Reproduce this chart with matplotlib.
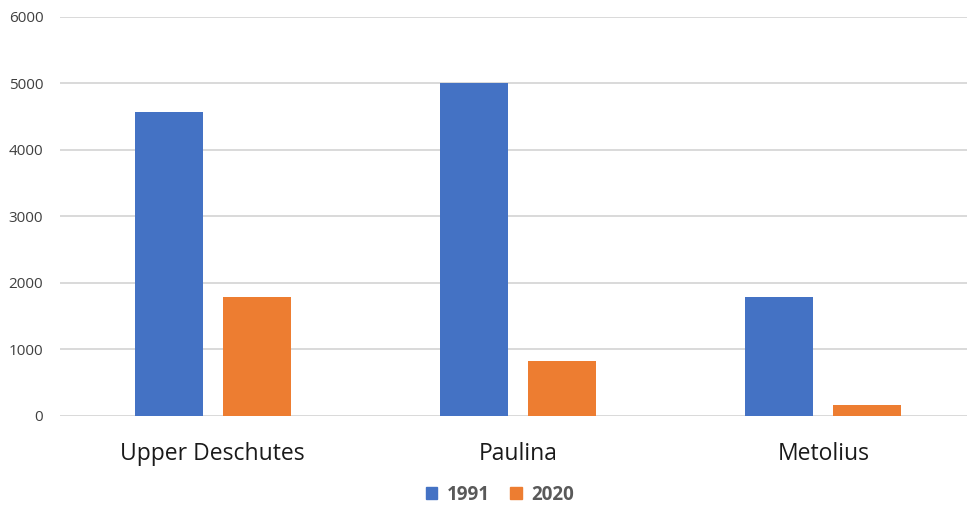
import numpy as np
import matplotlib.pyplot as plt
from matplotlib.patches import Patch

# values per river reach
rivers = ["Upper Deschutes", "Paulina", "Metolius"]
counts_1991 = [4570, 5000, 1790]
counts_2020 = [1785, 820, 160]
years = ["1991", "2020"]
y_ticks = [0, 1000, 2000, 3000, 4000, 5000, 6000]

blue = "#4472C4"
orange = "#ED7D31"
text_color = "#404040"

plt.rcParams["font.family"] = ["Open Sans", "DejaVu Sans"]

fig = plt.figure(figsize=(9.67, 5.07), dpi=100)
ax = fig.add_axes([0.062, 0.1795, 0.938, 0.787])

x = np.arange(len(rivers))
w = 0.2226
off = 0.144
ax.bar(x - off, counts_1991, width=w, color=blue, zorder=3)
ax.bar(x + off, counts_2020, width=w, color=orange, zorder=3)

ax.set_xlim(-0.5, 2.47)
ax.set_ylim(0, 6000)
ax.set_yticks(y_ticks)
ax.yaxis.grid(True, color="#d9d9d9", linewidth=1.4, zorder=0)
ax.set_axisbelow(True)
for s in ax.spines.values():
    s.set_visible(False)
ax.tick_params(axis="both", length=0)
ax.tick_params(axis="y", labelsize=11, labelcolor=text_color, pad=12)
ax.set_xticks(x)
ax.set_xticklabels(rivers, fontsize=16.5, color="#1a1a1a")
ax.tick_params(axis="x", pad=19)

handles = [Patch(color=blue), Patch(color=orange)]
leg = fig.legend(handles, years, loc="center", bbox_to_anchor=(0.517, 0.024),
                 ncol=2, frameon=False, handlelength=0.6, handleheight=0.6,
                 handletextpad=0.5, columnspacing=1.1,
                 prop={"size": 13.5, "weight": "bold"})
for t in leg.get_texts():
    t.set_color("#595959")

fig.savefig("out.png", dpi=100, facecolor="white")
